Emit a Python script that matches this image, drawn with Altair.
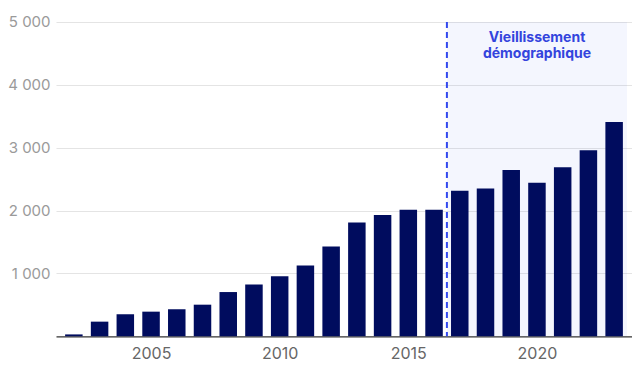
import altair as alt
import pandas as pd

years = list(range(2002, 2024))
values = [30, 233, 349, 392, 429, 503, 704, 823, 954, 1128, 1429, 1809, 1930,
          2014, 2014, 2315, 2351, 2647, 2441, 2690, 2959, 3411]
y_ticks = [1000, 2000, 3000, 4000, 5000]
x_ticks = [2005, 2010, 2015, 2020]
region_start = [2016.5]
region_end = [2023.5]
region_label = ["Vieillissement", "démographique"]

df = pd.DataFrame({"year": years, "value": values})
reg = pd.DataFrame({"x": region_start, "x2": region_end, "y": [0], "y2": [5000]})

PLOT_W = 576
PLOT_H = 314.3

xscale = alt.Scale(domain=[2001.5, 2023.5], nice=False, zero=False)
yscale = alt.Scale(domain=[0, 5000], nice=False)

shade = alt.Chart(reg).mark_rect(color="#3355ee", opacity=0.055).encode(
    x=alt.X("x:Q", scale=xscale), x2="x2:Q",
    y=alt.Y("y:Q", scale=yscale), y2="y2:Q",
)

bars = alt.Chart(df).mark_bar(color="#000c5e", width=17.5).encode(
    x=alt.X("year:Q", scale=xscale,
            axis=alt.Axis(values=x_ticks, format="d", title=None, grid=False,
                          ticks=False, domain=True, domainColor="#333333",
                          domainWidth=1.2, labelColor="#666666", labelFontSize=16,
                          labelFont="Inter", labelPadding=9)),
    y=alt.Y("value:Q", scale=yscale,
            axis=alt.Axis(values=y_ticks, title=None, grid=True, gridColor="#e4e4e4",
                          ticks=False, domain=False, labelColor="#9a9a9a",
                          labelFontSize=15, labelFont="Inter", labelPadding=6,
                          labelExpr="replace(format(datum.value, ','), ',', ' ')")),
)

rule = alt.Chart(pd.DataFrame({"x": region_start})).mark_rule(
    color="#3348ee", strokeWidth=2, strokeDash=[6, 4]
).encode(x=alt.X("x:Q", scale=xscale), y=alt.value(0), y2=alt.value(PLOT_H))

label = alt.Chart(pd.DataFrame({"x": [2020.0], "t": ["\n".join(region_label)]})).mark_text(
    font="Inter", fontWeight="bold", fontSize=14, color="#3344dd",
    align="center", baseline="alphabetic", lineBreak="\n", lineHeight=16.8,
).encode(x=alt.X("x:Q", scale=xscale), y=alt.value(19.7), text="t:N")

chart = alt.layer(shade, bars, rule, label).properties(
    width=PLOT_W, height=PLOT_H,
    autosize=alt.AutoSizeParams(type="none"),
    padding={"left": 48, "top": 14, "right": 0, "bottom": 28},
).configure_view(stroke=None)

chart.save("out.html", embed_options={"renderer": "svg", "actions": False})
